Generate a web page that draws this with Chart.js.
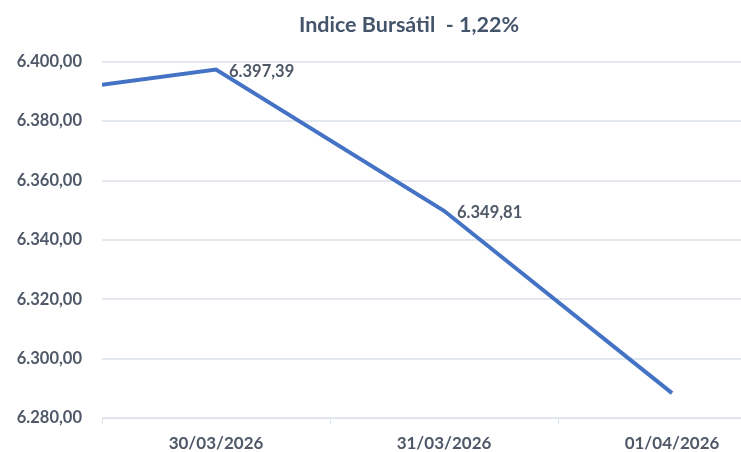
<!DOCTYPE html>
<html>
<head>
<meta charset="utf-8">
<script src="https://cdn.jsdelivr.net/npm/chart.js@4.4.1/dist/chart.umd.min.js"></script>
<style>
    html, body { margin: 0; padding: 0; background: #fff; overflow: hidden; }
    #wrap { width: 818px; height: 452px; }
</style>
</head>
<body>
<div id="wrap"><canvas id="chart_indice"></canvas></div>
<script>
// fechas (la primera es el cierre anterior, queda fuera del área)
var fechas = ["", "30/03/2026", "31/03/2026", "01/04/2026"];
var valores = [6387.1, 6397.39, 6349.81, 6288.4];
var etiquetas = [false, true, true, false];
var yTicks = [6280, 6300, 6320, 6340, 6360, 6380, 6400];

function numES(v) {
    var partes = v.toFixed(2).split(".");
    var entero = partes[0].replace(/\B(?=(\d{3})+(?!\d))/g, ".");
    return entero + "," + partes[1];
}

var gris = "#4f5868";
var fuente = "Lato";

var puntos = valores.map(function (v, i) {
    return { x: i, y: v };
});

var labelsPlugin = {
    id: "etiquetasDatos",
    afterDatasetsDraw: function (chart) {
        var ctx = chart.ctx;
        var meta = chart.getDatasetMeta(0);
        ctx.save();
        ctx.font = "bold 16.5px " + fuente;
        ctx.fillStyle = gris;
        ctx.textAlign = "left";
        ctx.textBaseline = "middle";
        meta.data.forEach(function (pt, i) {
            if (!etiquetas[i]) return;
            ctx.fillText(numES(valores[i]), pt.x + 13, pt.y + 2);
        });
        ctx.restore();
    }
};

var chart = document.getElementById("chart_indice").getContext("2d");
new Chart(chart, {
    type: "line",
    data: {
        datasets: [
            {
                data: puntos,
                borderColor: "#4472C4",
                borderWidth: 4,
                pointRadius: 0,
                tension: 0,
                fill: false,
            },
        ],
    },
    plugins: [labelsPlugin],
    options: {
        responsive: true,
        maintainAspectRatio: false,
        animation: false,
        layout: {
            padding: { left: 12, right: 12, top: 0, bottom: 0 },
        },
        plugins: {
            legend: { display: false },
            tooltip: { enabled: false },
            title: {
                display: true,
                text: "Indice Bursátil  - 1,22%",
                color: "#44546A",
                font: { family: fuente, size: 21.5, weight: "bold" },
                padding: { top: 12, bottom: 24 },
            },
        },
        scales: {
            x: {
                type: "linear",
                min: 0.5,
                max: 3.5,
                afterBuildTicks: function (axis) {
                    axis.ticks = [0.5, 1, 1.5, 2, 2.5, 3, 3.5].map(function (v) {
                        return { value: v };
                    });
                },
                afterFit: function (axis) {
                    axis.height = 34;
                    axis.paddingLeft = 0;
                    axis.paddingRight = 32;
                },
                ticks: {
                    autoSkip: false,
                    maxRotation: 0,
                    color: gris,
                    padding: 9,
                    font: { family: fuente, size: 17, weight: "bold" },
                    callback: function (v) {
                        return Number.isInteger(v) ? fechas[v] : "";
                    },
                },
                grid: {
                    drawOnChartArea: false,
                    tickLength: 6,
                    color: function (c) {
                        return c.tick && Number.isInteger(c.tick.value) ? "rgba(0,0,0,0)" : "#dfe3ea";
                    },
                },
                border: { display: true, color: "#dfe3ea", width: 1 },
            },
            y: {
                min: 6280,
                max: 6400,
                afterBuildTicks: function (axis) {
                    axis.ticks = yTicks.map(function (v) {
                        return { value: v };
                    });
                },
                afterFit: function (axis) {
                    axis.width = 90;
                    axis.paddingTop = 0;
                    axis.paddingBottom = 0;
                },
                ticks: {
                    color: gris,
                    padding: 20,
                    font: { family: fuente, size: 16.5, weight: "bold" },
                    callback: function (v) {
                        return numES(v);
                    },
                },
                grid: {
                    color: "#e3e7ee",
                    lineWidth: 2,
                    drawTicks: false,
                },
                border: { display: false },
            },
        },
    },
});
</script>
</body>
</html>
